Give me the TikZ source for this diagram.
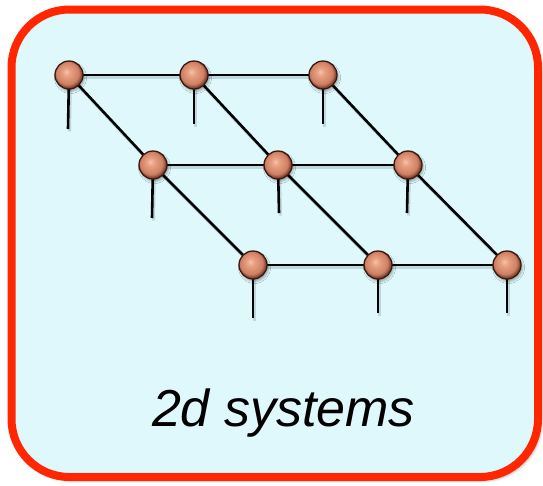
\documentclass[tikz,border=0pt]{standalone}
\usepackage{fontspec}
\setmainfont{Liberation Sans}
\usetikzlibrary{shadows.blur}
\definecolor{panelfill}{RGB}{223,248,252}
\definecolor{panelrim}{RGB}{255,38,0}
\definecolor{ballhi}{RGB}{246,196,172}
\definecolor{ballmid}{RGB}{232,160,128}
\definecolor{ballbase}{RGB}{206,128,100}
\definecolor{balldark}{RGB}{120,60,42}
\definecolor{ballrim}{RGB}{60,26,16}
\definecolor{edgeshadow}{RGB}{120,160,170}
\pgfdeclareradialshading{sitegrad}{\pgfpoint{-5bp}{6bp}}{%
  color(0bp)=(ballhi); color(7bp)=(ballmid); color(20bp)=(ballbase);
  color(26bp)=(balldark); color(50bp)=(balldark)}
\tikzset{
  site/.style={circle, minimum size=28pt, inner sep=0pt, shading=sitegrad,
    draw=ballrim, line width=1.3pt,
    blur shadow={shadow xshift=1.5pt, shadow yshift=-2.5pt, shadow opacity=30, shadow blur radius=2pt}},
  bond/.style={line width=2.6pt, black,
    preaction={draw=edgeshadow, opacity=0.35, line width=3pt,
      transform canvas={shift={(1.5pt,-2.5pt)}}}},
  leg/.style={bond},
  frame/.style={rounded corners=58pt, line width=8pt, draw=panelrim, fill=panelfill,
    blur shadow={shadow xshift=3pt, shadow yshift=-3pt, shadow opacity=45, shadow blur radius=3pt}}
}
\begin{document}
\begin{tikzpicture}[x=1pt,y=-1pt]
\useasboundingbox (0,0) rectangle (543,485);
\draw[frame] (11.5,9.5) rectangle (538,477);

% lattice site positions
\coordinate (a1) at (69,75);
\coordinate (a2) at (194,75);
\coordinate (a3) at (323,75);
\coordinate (b1) at (153,165);
\coordinate (b2) at (278,165);
\coordinate (b3) at (408,165);
\coordinate (c1) at (253,265);
\coordinate (c2) at (378,265);
\coordinate (c3) at (507,265);

% free ends of the physical legs
\coordinate (la1) at (68,129);
\coordinate (la2) at (194,124);
\coordinate (la3) at (323,124);
\coordinate (lb1) at (152,218);
\coordinate (lb2) at (279,213);
\coordinate (lb3) at (407,213);
\coordinate (lc1) at (253,318);
\coordinate (lc2) at (378,313);
\coordinate (lc3) at (507,313);

% bonds and legs
\foreach \u/\v in {a1/a2,a2/a3,b1/b2,b2/b3,c1/c2,c2/c3,a1/b1,b1/c1,a2/b2,b2/c2,a3/b3,b3/c3}
  \draw[bond] (\u) -- (\v);
\foreach \u in {a1,a2,a3,b1,b2,b3,c1,c2,c3}
  \draw[leg] (\u) -- (l\u);

% tensors on top
\foreach \u in {a1,a2,a3,b1,b2,b3,c1,c2,c3}
  \node[site] (s\u) at (\u) {};

\node[font=\fontsize{52}{60}\selectfont\itshape, anchor=base] (label) at (283.5,426) {2d systems};
\end{tikzpicture}
\end{document}
